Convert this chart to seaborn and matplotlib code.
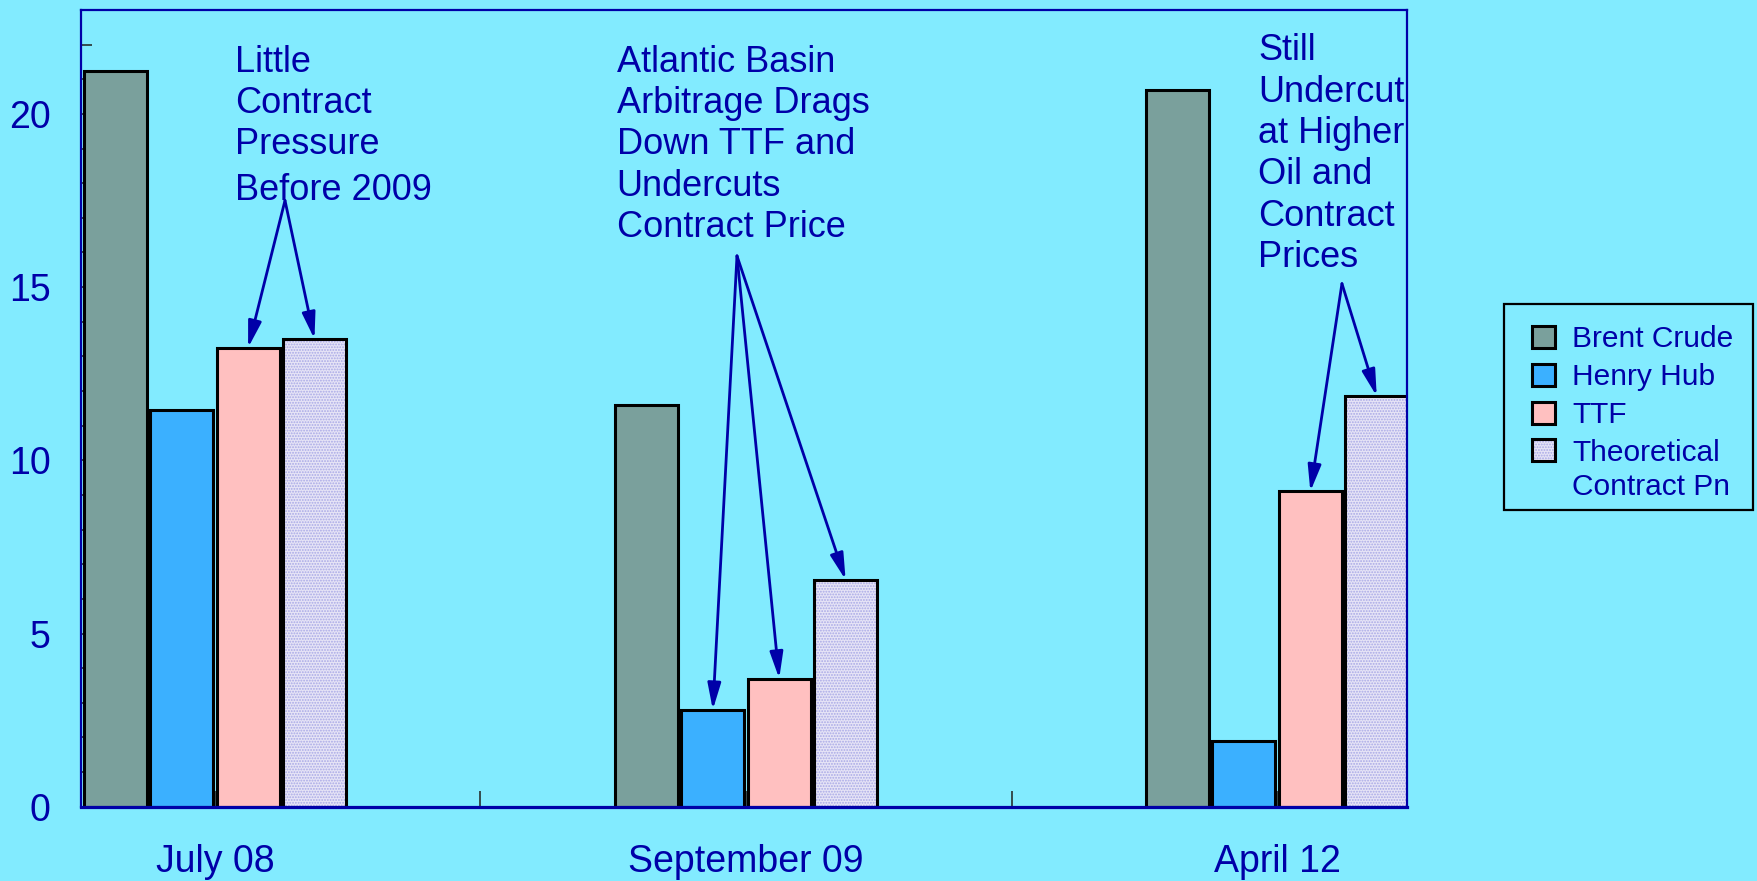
import matplotlib
matplotlib.use("Agg")
import matplotlib.pyplot as plt
from matplotlib.colors import to_rgba
from matplotlib.patches import Rectangle
import pandas as pd
import seaborn as sns

# ---- data -------------------------------------------------------------
periods = ["July 08", "September 09", "April 12"]
series = ["Brent Crude", "Henry Hub", "TTF", "Theoretical\nContract Pn"]
brent = [21.25, 11.6, 20.7]
henry_hub = [11.45, 2.8, 1.9]
ttf = [13.25, 3.7, 9.1]
theoretical = [13.5, 6.55, 11.85]

notes = [
    "Little\nContract\nPressure",
    "Atlantic Basin\nArbitrage Drags\nDown TTF and\nUndercuts\nContract Price",
    "Still\nUndercut\nat Higher\nOil and\nContract\nPrices",
]
note_tail = "Before 2009"   # last line of the first note, set a little lower
# which bars each note points at: (series index, period index)
note_targets = [
    [(2, 0), (3, 0)],
    [(1, 1), (2, 1), (3, 1)],
    [(2, 2), (3, 2)],
]

# ---- styling ----------------------------------------------------------
BG = "#82EBFF"
NAVY = "#0000A8"
TICK = "#2F3F3F"
palette = ["#7AA09C", "#3BB0FF", "#FFC0C0", "#E6E4F6"]

sns.set_style("ticks")
plt.rcParams["font.family"] = ["Liberation Sans", "DejaVu Sans"]
plt.rcParams["hatch.linewidth"] = 0.9

values = [brent, henry_hub, ttf, theoretical]
df = pd.DataFrame(
    {
        "period": [p for s in series for p in periods],
        "series": [s for s in series for _ in periods],
        "value": [v for vals in values for v in vals],
    }
)

fig = plt.figure(figsize=(17.58, 8.81), dpi=100, facecolor=BG)
ax = fig.add_axes([0.0461, 0.0843, 0.7541, 0.9044])
ax.set_facecolor(BG)

sns.barplot(
    data=df, x="period", y="value", hue="series", order=periods,
    hue_order=series, palette=palette, width=0.5, gap=0.05,
    edgecolor="black", linewidth=2.2, saturation=1, legend=False, ax=ax,
)

# dotted texture on the theoretical contract bars
for p in ax.containers[3]:
    p.set_hatch("......")
    p._hatch_color = to_rgba("#A8A8E6")

ax.set_xlim(-0.252, 2.244)
ax.set_ylim(0, 23)
ax.set_xlabel("")
ax.set_ylabel("")

ax.set_xticks([0, 0.5, 1, 1.5, 2], labels=[periods[0], "", periods[1], "", periods[2]])
ax.set_yticks([0, 5, 10, 15, 20])
ax.set_yticks([v for v in range(1, 24) if v % 5], minor=True)
ax.tick_params(axis="x", direction="in", length=11.5, width=1.3, color=TICK,
               pad=27, labelsize=27, labelcolor=NAVY)
ax.tick_params(axis="y", which="major", direction="in", length=15, width=1.3,
               color=TICK, pad=22, labelsize=27, labelcolor=NAVY)
ax.tick_params(axis="y", which="minor", direction="in", length=8, width=1.3,
               color=TICK)
ax.tick_params(axis="x", which="minor", length=0)

for side in ["left", "top", "right"]:
    ax.spines[side].set_color(NAVY)
    ax.spines[side].set_linewidth(1.6)
    ax.spines[side].set_visible(True)
ax.spines["bottom"].set_color(NAVY)
ax.spines["bottom"].set_linewidth(2.3)

# ---- annotations --------------------------------------------------------
note_text_pos = [(0.0377, 22.0), (0.7565, 22.0), (1.9648, 22.33)]
note_apex = [(0.132, 17.5), (0.983, 15.9), (2.122, 15.1)]

for text, (tx, ty), (axx, axy), targets in zip(notes, note_text_pos, note_apex, note_targets):
    ax.text(tx, ty, text, color=NAVY, fontsize=26, ha="left", va="top",
            linespacing=1.235)
    for si, pi in targets:
        bar = ax.containers[si][pi]
        bx = bar.get_x() + bar.get_width() / 2
        by = bar.get_height()
        ax.annotate(
            "", xy=(bx, by), xytext=(axx, axy),
            arrowprops=dict(arrowstyle="-|>,head_length=0.8,head_width=0.2",
                            color=NAVY, lw=2, shrinkA=0, shrinkB=0,
                            mutation_scale=20),
        )
ax.text(note_text_pos[0][0], 17.51, note_tail, color=NAVY, fontsize=26,
        ha="left", va="baseline")

# ---- legend -------------------------------------------------------------
# box drawn on its own (behind the axes content) so its padding can differ per side
fig.patches.append(Rectangle((0.8557, 0.4211), 0.1413, 0.2338,
                             transform=fig.transFigure, facecolor=BG,
                             edgecolor="black", linewidth=1.6, zorder=-1))
leg = ax.legend(
    ax.containers, series, loc="upper left", bbox_to_anchor=(0.8713, 0.6306),
    bbox_transform=fig.transFigure, borderaxespad=0, fontsize=21.5,
    frameon=False, handlelength=0.78, handleheight=0.78, handletextpad=0.58,
    labelspacing=0.33, borderpad=0,
)
for t in leg.get_texts():
    t.set_color(NAVY)
    t.set_linespacing(1.28)
# the two-line entry keeps its swatch level with the first line
leg._legend_handle_box.get_children()[0].get_children()[-1].align = "top"

fig.savefig("out.png", dpi=100, facecolor=BG)
